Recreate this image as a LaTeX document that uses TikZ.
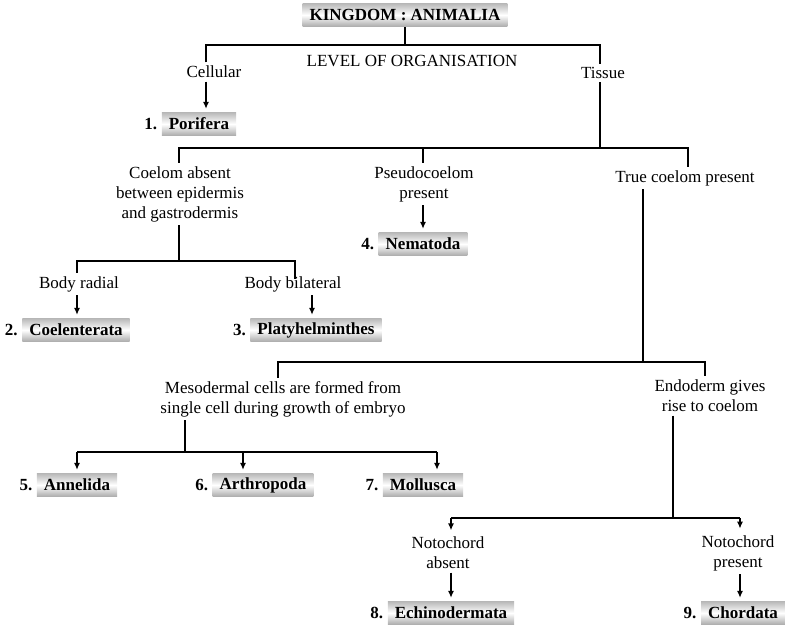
\documentclass[tikz,border=0pt]{standalone}
\usepackage{fontspec}
\setmainfont{Liberation Serif}
\usetikzlibrary{arrows.meta}

\begin{document}
\begin{tikzpicture}[x=1pt,y=-1pt,
    txt/.style={font=\fontsize{17}{20}\selectfont,align=center,inner sep=3pt},
    taxon/.style={font=\fontsize{17}{20}\selectfont\bfseries,inner xsep=7pt,
      minimum height=23pt,top color=gray!55,bottom color=gray!65,middle color=white},
    num/.style={font=\fontsize{17}{20}\selectfont\bfseries},
    arr/.style={-{Latex[length=7pt,width=6pt]},shorten >=3pt},
    line width=1.3pt]
  \useasboundingbox (0,0) rectangle (793,629);
  % taxa
  \node[taxon] (kingdom) at (405,15) {KINGDOM : ANIMALIA};
  \node[taxon,label={[num]left:1.}] (porifera) at (199,124) {Porifera};
  \node[taxon,label={[num]left:2.}] (coelent) at (76,330) {Coelenterata};
  \node[taxon,label={[num]left:3.}] (platy) at (316,330) {Platyhelminthes};
  \node[taxon,label={[num]left:4.}] (nemat) at (423,244) {Nematoda};
  \node[taxon,label={[num]left:5.}] (annel) at (77,485) {Annelida};
  \node[taxon,label={[num]left:6.}] (arthro) at (263,485) {Arthropoda};
  \node[taxon,label={[num]left:7.}] (mollus) at (423,485) {Mollusca};
  \node[taxon,label={[num]left:8.}] (echino) at (451,613) {Echinodermata};
  \node[taxon,label={[num]left:9.}] (chord) at (743,613) {Chordata};
  % criteria
  \node[txt] (lvl) at (412,61) {LEVEL OF ORGANISATION};
  \node[txt] (cell) at (214,72) {Cellular};
  \node[txt] (tiss) at (603,73) {Tissue};
  \node[txt] (absent) at (180,194) {Coelom absent\\between epidermis\\and gastrodermis};
  \node[txt] (pseudo) at (424,184) {Pseudocoelom\\present};
  \node[txt] (truec) at (685,178) {True coelom present};
  \node[txt] (radial) at (79,284) {Body radial};
  \node[txt] (bilat) at (293,284) {Body bilateral};
  \node[txt] (meso) at (283,399) {Mesodermal cells are formed from\\single cell during growth of embryo};
  \node[txt] (endo) at (710,396) {Endoderm gives\\rise to coelom};
  \node[txt] (nabs) at (448,553) {Notochord\\absent};
  \node[txt] (npres) at (738,553) {Notochord\\present};
  % junctions
  \coordinate (a0) at (405,45);
  \coordinate (a1) at (206,45);
  \coordinate (a2) at (600,45);
  \coordinate (b0) at (600,148);
  \coordinate (b1) at (179,148);
  \coordinate (b2) at (423,148);
  \coordinate (b3) at (688,148);
  \coordinate (c0) at (179,261);
  \coordinate (c1) at (77,261);
  \coordinate (c2) at (295,261);
  \coordinate (c3) at (312,300);
  \coordinate (d0) at (643,362);
  \coordinate (d1) at (278,362);
  \coordinate (d2) at (705,362);
  \coordinate (e0) at (185,452);
  \coordinate (e1) at (77,452);
  \coordinate (e2) at (243,452);
  \coordinate (e3) at (437,452);
  \coordinate (f0) at (673,518);
  \coordinate (f1) at (451,518);
  \coordinate (f2) at (740,518);
  % level of organisation
  \draw (kingdom) -- (a0);
  \draw (cell.north -| a1) -- (a1) -- (a2) -- (tiss.north -| a2);
  \draw[arr] (cell.south -| a1) -- (porifera.north -| a1);
  \draw (tiss.south -| b0) -- (b0);
  \draw (absent.north -| b1) -- (b1) -- (b3) -- (truec.north -| b3);
  \draw (b2) -- (pseudo.north -| b2);
  % coelom absent
  \draw (absent.south -| c0) -- (c0);
  \draw (radial.north -| c1) -- (c1) -- (c2) -- ([yshift=-6pt]bilat.north -| c2);
  \draw[arr] (radial.south -| c1) -- (coelent.north -| c1);
  \draw[arr] (bilat.south -| c3) -- (platy.north -| c3);
  \draw[arr] (pseudo.south -| b2) -- (nemat.north -| b2);
  % true coelom
  \draw (truec.south -| d0) -- (d0);
  \draw (meso.north -| d1) -- (d1) -- (d2) -- (endo.north -| d2);
  \draw (meso.south -| e0) -- (e0);
  \draw (e1) -- (e3);
  \draw[arr] (e1) -- (annel.north -| e1);
  \draw[arr] (e2) -- (arthro.north -| e2);
  \draw[arr] (e3) -- (mollus.north -| e3);
  \draw (endo.south -| f0) -- (f0);
  \draw (f1) -- (f2);
  \draw[arr] (f1) -- (nabs.north -| f1);
  \draw[arr] (f2) -- (npres.north -| f2);
  \draw[arr] (nabs.south -| f1) -- (echino.north -| f1);
  \draw[arr] (npres.south -| f2) -- (chord.north -| f2);
\end{tikzpicture}
\end{document}
